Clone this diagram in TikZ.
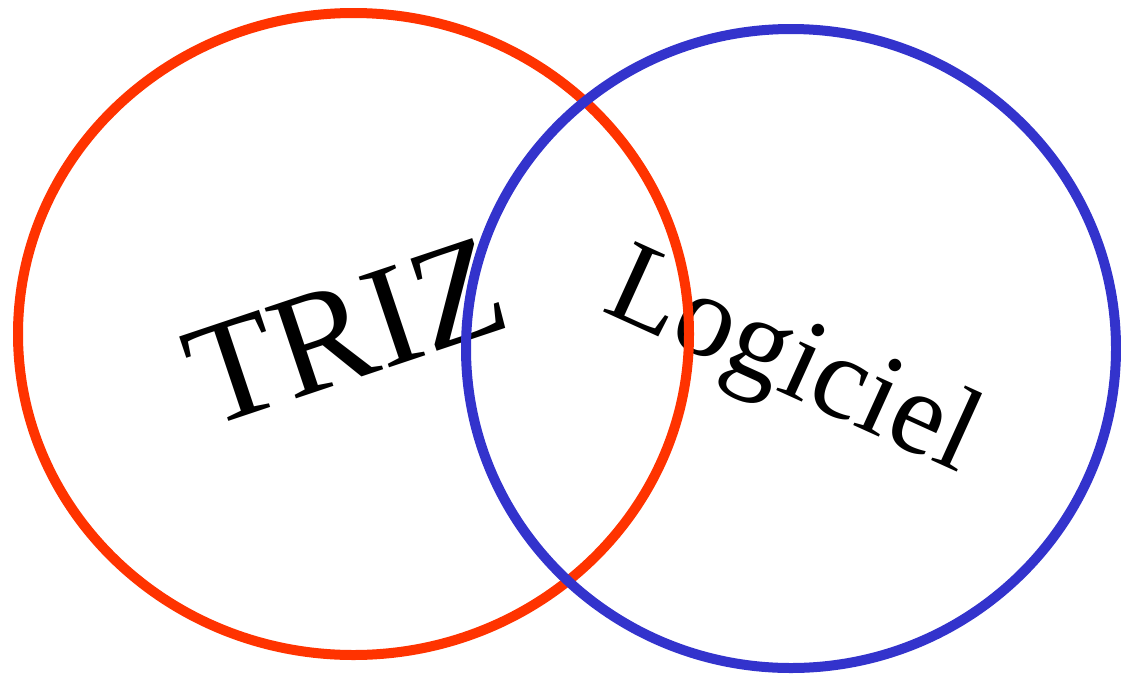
\documentclass[tikz,border=0pt]{standalone}
\usepackage{fontspec}
\setmainfont{Liberation Serif}
\usepackage{tikz}
\definecolor{TrizRed}{HTML}{FF3300}
\definecolor{SoftBlue}{HTML}{3333CC}
\tikzset{
  setring/.style={line width=10pt},
  setlabel/.style={inner sep=0pt, anchor=base, text=black}
}

\begin{document}
\begin{tikzpicture}[x=1pt, y=-1pt]
  \useasboundingbox (0,0) rectangle (1121,678);
  % Labels
  \node[setlabel, rotate=18.5, font=\fontsize{146}{146}\selectfont] (triz) at (361,377) {TRIZ};
  \node[setlabel, rotate=-24.4, font=\fontsize{118}{118}\selectfont] (logiciel) at (780,392) {Logiciel};
  % Sets
  \draw[setring, TrizRed] (353.5,334) ellipse [x radius=335.5, y radius=321];
  \draw[setring, SoftBlue] (791,348.5) ellipse [x radius=325, y radius=319.5];
\end{tikzpicture}
\end{document}
